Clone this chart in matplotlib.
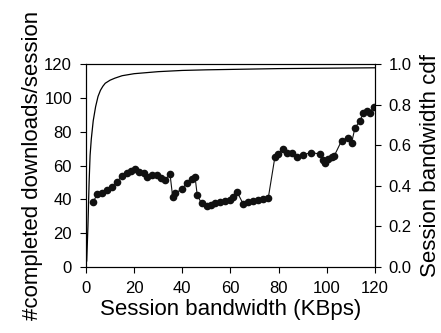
import matplotlib
matplotlib.use('Agg')
import matplotlib.pyplot as plt

plt.rcParams['font.family'] = ['Liberation Sans', 'DejaVu Sans']

# downloads per session vs session bandwidth (left axis)
bw = [3.0, 4.7, 6.5, 8.6, 10.8, 12.7, 15.1, 16.9, 18.5, 20.2, 22.0, 24.1, 25.5,
      27.5, 29.6, 31.3, 32.8, 34.9, 36.0, 37.0, 39.7, 41.8, 43.9, 45.3, 46.2,
      48.0, 50.1, 51.8, 53.6, 55.6, 57.7, 59.8, 61.2, 62.8, 65.3, 67.4, 69.5,
      71.6, 73.6, 75.7, 78.5, 79.9, 81.7, 83.3, 85.4, 87.5, 90.2, 93.6, 97.2,
      98.3, 99.3, 100.6, 102.0, 103.1, 106.2, 108.7, 110.3, 111.7, 113.8,
      115.2, 116.6, 117.9, 119.6]
downloads = [38.6, 43.0, 44.0, 45.5, 47.5, 50.4, 53.8, 55.4, 56.7, 57.7, 56.3,
             55.4, 53.4, 54.4, 54.4, 52.4, 51.4, 55.0, 41.6, 43.6, 45.9, 49.5,
             51.8, 53.4, 42.6, 37.6, 36.0, 36.6, 37.6, 38.6, 39.2, 39.6, 41.6,
             44.3, 37.3, 38.6, 39.2, 39.6, 40.2, 40.6, 65.2, 66.8, 69.7, 67.2,
             67.2, 64.9, 66.4, 67.6, 66.8, 63.2, 61.7, 63.7, 64.9, 65.6, 74.7,
             76.4, 73.1, 82.0, 86.5, 90.8, 92.4, 91.2, 94.7]

# session bandwidth cdf (right axis)
cdf_x = [0.3, 0.8, 1.3, 1.7, 2.2, 3, 4, 5, 6, 7, 8, 10, 12, 15, 20, 25, 30,
         40, 50, 60, 70, 80, 90, 100, 110, 120]
cdf_y = [0.03, 0.2, 0.42, 0.55, 0.63, 0.72, 0.79, 0.84, 0.87, 0.89, 0.905,
         0.92, 0.93, 0.942, 0.952, 0.957, 0.962, 0.968, 0.971, 0.973, 0.975,
         0.977, 0.978, 0.979, 0.98, 0.981]

fig = plt.figure(figsize=(4.41, 3.33), dpi=100)
ax = fig.add_axes([0.195, 0.198, 0.655, 0.61])
ax.plot(bw, downloads, color='#111111', linewidth=0.8, marker='o',
        markersize=5.5, markeredgewidth=0)
ax.set_xlim(0, 120)
ax.set_ylim(0, 120)
ax.set_xticks(range(0, 121, 20))
ax.set_yticks(range(0, 121, 20))
ax.tick_params(direction='out', length=4, labelsize=12, pad=6)
ax.set_xlabel('Session bandwidth (KBps)', fontsize=16, labelpad=2)
ax.set_ylabel('#completed downloads/session', fontsize=16, labelpad=1)

ax2 = ax.twinx()
ax2.plot(cdf_x, cdf_y, color='black', linewidth=0.9)
ax2.set_ylim(0, 1.0)
ax2.set_yticks([0.0, 0.2, 0.4, 0.6, 0.8, 1.0])
ax2.set_yticklabels(['0.0', '0.2', '0.4', '0.6', '0.8', '1.0'])
ax2.tick_params(direction='out', length=4, labelsize=12, pad=6)
ax2.set_ylabel('Session bandwidth cdf', fontsize=16, labelpad=6)

for a in (ax, ax2):
    for s in a.spines.values():
        s.set_linewidth(0.8)

fig.savefig('out.png', dpi=100)
